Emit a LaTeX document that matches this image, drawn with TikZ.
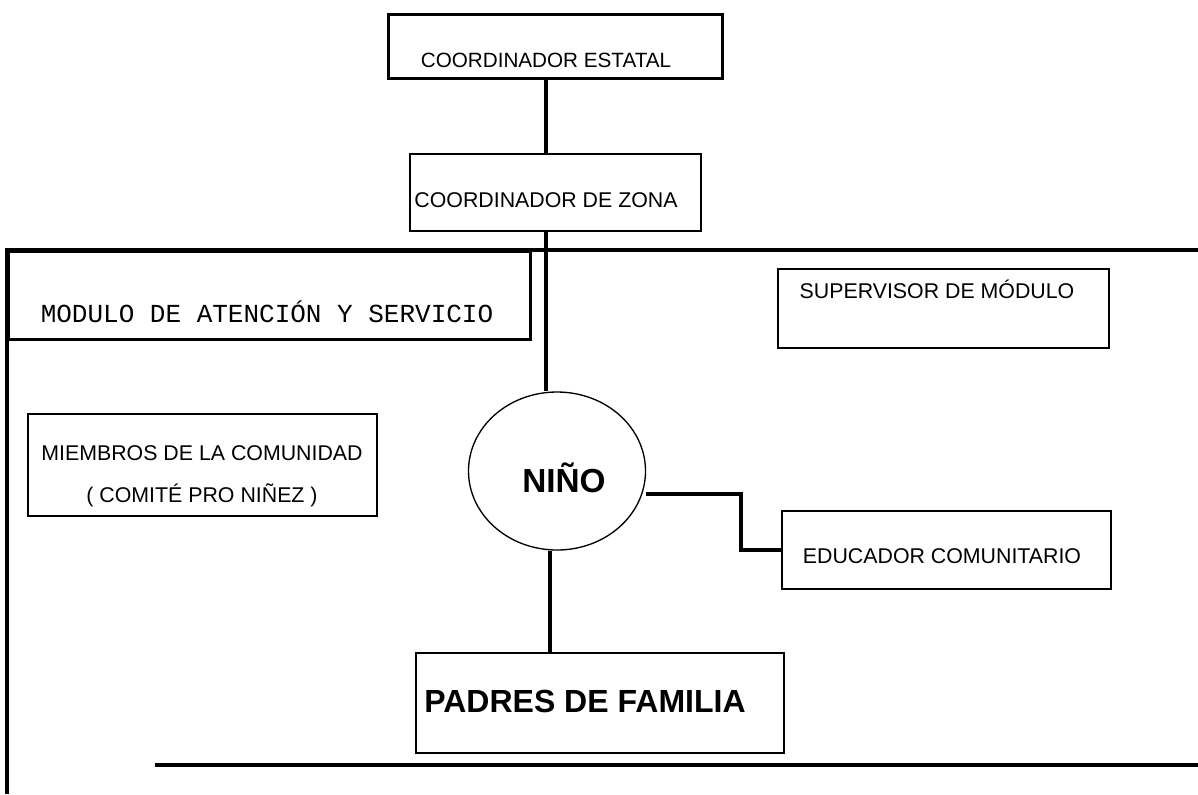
\documentclass[tikz,border=0pt]{standalone}
\usepackage{fontspec}
\setmainfont{Liberation Sans}
\newfontfamily\monofont{Liberation Mono}
\usetikzlibrary{shapes.geometric,calc}
\begin{document}
\begin{tikzpicture}[x=0.75pt,y=-0.75pt,
  thickbox/.style={draw, line width=2.3pt, rectangle, anchor=north west, inner sep=0pt},
  thinbox/.style={draw, line width=1.2pt, rectangle, anchor=north west, inner sep=0pt},
  link/.style={line width=3pt},
  framestyle/.style={line width=2.5pt},
  lbl/.style={inner sep=0pt, anchor=base, font=\fontsize{16}{19}\selectfont},
  biglbl/.style={inner sep=0pt, anchor=base, font=\fontsize{25}{30}\selectfont\bfseries},
  monolbl/.style={inner sep=0pt, anchor=base, font=\monofont\fontsize{19.5}{23}\selectfont}
]
\useasboundingbox (0,0) rectangle (1198,794);
\fill[white] (0,0) rectangle (1198,794);

% outer frame of the module
\coordinate (fTR) at (1198,250);
\coordinate (fTL) at (7,250);
\coordinate (fBL) at (7,794);
\coordinate (fB1) at (155,765);
\coordinate (fB2) at (1198,765);
\draw[framestyle] (fTR) -- (fTL) -- (fBL);
\draw[framestyle] (fB1) -- (fB2);

% boxes
\node[thickbox, minimum width=250.5pt, minimum height=48pt] (estatal) at (387,13) {};
\node[thinbox, minimum width=218.25pt, minimum height=57.75pt] (zona) at (409,153) {};
\node[thickbox, minimum width=391.5pt, minimum height=66pt] (modulo) at (7,250) {};
\node[thinbox, minimum width=248.25pt, minimum height=59.25pt] (super) at (777,268) {};
\node[thinbox, minimum width=261.75pt, minimum height=76.5pt] (miembros) at (27,413) {};
\node[thinbox, minimum width=246.75pt, minimum height=58.5pt] (educ) at (781,510) {};
\node[thinbox, minimum width=276pt, minimum height=75pt] (padres) at (415,652) {};
\node[draw, line width=1pt, ellipse, minimum width=132.75pt, minimum height=118.5pt, inner sep=0pt] (nino) at (557,471) {};

% labels
\node[lbl, font=\fontsize{15.5}{18}\selectfont] (testatal) at (546,67) {COORDINADOR ESTATAL};
\node[lbl] (tzona) at (546,207) {COORDINADOR DE ZONA};
\node[monolbl] (tmodulo) at (267,322) {MODULO DE ATENCIÓN Y SERVICIO};
\node[lbl] (tsuper) at (937,298) {SUPERVISOR DE MÓDULO};
\node[lbl] (tmiem1) at (202,460) {MIEMBROS DE LA COMUNIDAD};
\node[lbl] (tmiem2) at (202,502) {( COMITÉ PRO NIÑEZ )};
\node[lbl] (teduc) at (942,563) {EDUCADOR COMUNITARIO};
\node[biglbl] (tnino) at (564,492) {NIÑO};
\node[biglbl, font=\fontsize{24}{29}\selectfont\bfseries] (tpadres) at (585,712) {PADRES DE FAMILIA};

% connectors
\coordinate (spine) at (546,0);
\coordinate (spine2) at (550,0);
\draw[link] (estatal.south -| spine) -- (zona.north -| spine);
\draw[link] (zona.south -| spine) -- (nino.north -| spine);
\draw[link] (nino.south -| spine2) -- (padres.north -| spine2);
\draw[link] ([yshift=-17.25pt]nino.east) -- ++(95,0) |- (educ.west);
\end{tikzpicture}
\end{document}
